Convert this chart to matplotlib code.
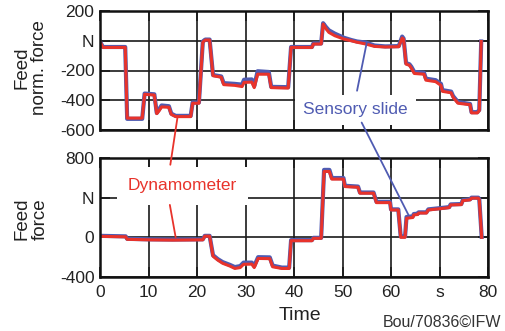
import numpy as np
import matplotlib
matplotlib.use("Agg")
import matplotlib.pyplot as plt
from matplotlib.patches import ConnectionPatch

plt.rcParams['font.family'] = ['Liberation Sans', 'DejaVu Sans']

# %% Datos (tiempo [s], fuerza [N])
# Fuerza normal de avance (arriba)
norm_dyn = [(0, -5), (0.6, -45), (5.2, -45), (5.6, -520), (8.7, -520), (9.2, -360),
            (11.2, -365), (11.7, -490), (12.2, -470), (12.7, -445), (14.2, -447),
            (14.7, -495), (15.6, -510), (18.7, -510), (19.1, -420), (20.4, -420),
            (21.2, -10), (21.7, 5), (22.6, 5), (23.3, -235), (25.0, -245), (25.5, -295),
            (27.8, -300), (29.3, -308), (29.7, -280), (31.3, -278), (31.8, -315),
            (32.5, -225), (34.8, -225), (35.3, -315), (38.8, -318), (39.4, -45),
            (43.7, -45), (44.0, -22), (45.6, -22), (46.0, 112), (46.6, 80), (47.2, 56),
            (48.4, 34), (50.3, 11), (51.8, 0), (53.0, -10), (54.8, -22), (56.6, -38),
            (58.8, -42), (61.6, -40), (62.3, 18), (62.6, 10), (63.1, -157), (63.8, -165),
            (64.2, -185), (64.8, -220), (66.8, -225), (67.2, -265), (69.2, -275),
            (70.3, -300), (70.6, -340), (72.4, -350), (72.8, -380), (73.8, -420),
            (76.3, -430), (76.6, -485), (77.8, -485), (78.2, -470), (78.6, -5)]

norm_slide = [(0, -5), (0.6, -42), (5.2, -42), (5.6, -525), (8.7, -525), (9.2, -355),
              (11.2, -360), (11.7, -485), (12.2, -460), (12.7, -435), (14.2, -440),
              (14.7, -490), (15.6, -505), (18.7, -505), (19.1, -415), (20.4, -415),
              (21.2, -5), (21.7, 8), (22.6, 8), (23.3, -230), (25.0, -240), (25.5, -285),
              (27.8, -290), (29.3, -295), (29.7, -262), (31.3, -260), (31.8, -305),
              (32.5, -205), (34.8, -210), (35.3, -310), (38.8, -312), (39.4, -42),
              (43.7, -42), (44.0, -18), (45.6, -18), (46.0, 118), (46.6, 92), (47.2, 70),
              (48.4, 48), (50.3, 20), (51.8, 5), (53.0, -5), (54.8, -12), (56.6, -32),
              (58.8, -38), (61.6, -36), (62.3, 28), (62.6, 15), (63.1, -150), (63.8, -158),
              (64.2, -175), (64.8, -210), (66.8, -215), (67.2, -255), (69.2, -265),
              (70.3, -290), (70.6, -332), (72.4, -342), (72.8, -372), (73.8, -412),
              (76.3, -425), (76.6, -480), (77.8, -480), (78.2, -465), (78.6, -5)]

# Fuerza de avance (abajo)
feed_dyn = [(0, 10), (5.3, 5), (5.6, -20), (10, -25), (15, -28), (21.2, -25), (21.6, 12),
            (22.6, 12), (23.3, -190), (24.3, -230), (25.3, -262), (26.8, -290),
            (27.8, -314), (28.9, -305), (29.6, -272), (31.3, -270), (31.8, -305),
            (32.6, -213), (35.0, -215), (35.6, -297), (37.5, -314), (39.0, -314),
            (39.4, -34), (43.7, -34), (44.0, -10), (45.6, -10), (46.2, 664), (47.3, 664),
            (47.8, 587), (50.2, 587), (50.5, 512), (53.2, 505), (53.6, 445), (56.4, 445),
            (57.0, 350), (59.8, 350), (60.0, 276), (61.5, 276), (62.0, 0), (62.9, 0),
            (63.2, 192), (64.5, 200), (64.7, 226), (65.5, 230), (65.7, 245), (67.3, 245),
            (67.7, 276), (70.4, 290), (72.0, 300), (72.3, 327), (74.5, 330), (74.8, 370),
            (76.3, 378), (76.6, 395), (78.0, 395), (78.2, 380), (78.7, 0)]

feed_slide = [(0, 15), (5.3, 10), (5.6, -15), (10, -20), (15, -22), (21.2, -20), (21.6, 15),
              (22.6, 15), (23.3, -180), (24.3, -220), (25.3, -250), (26.8, -278),
              (27.8, -300), (28.9, -290), (29.6, -255), (31.3, -255), (31.8, -290),
              (32.6, -200), (35.0, -202), (35.6, -285), (37.5, -305), (39.0, -305),
              (39.4, -28), (43.7, -28), (44.0, -5), (45.6, -5), (46.2, 680), (47.3, 680),
              (47.8, 598), (50.2, 598), (50.5, 520), (53.2, 512), (53.6, 452), (56.4, 452),
              (57.0, 358), (59.8, 358), (60.0, 282), (61.5, 282), (62.0, 10), (62.9, 10),
              (63.2, 205), (64.5, 212), (64.7, 235), (65.5, 238), (65.7, 252), (67.3, 252),
              (67.7, 282), (70.4, 296), (72.0, 305), (72.3, 332), (74.5, 336), (74.8, 375),
              (76.3, 383), (76.6, 400), (78.0, 400), (78.2, 385), (78.7, 5)]

x_ticks = [0, 10, 20, 30, 40, 50, 60, 70, 80]
x_labels = ['0', '10', '20', '30', '40', '50', '60', 's', '80']
top_ticks = [-600, -400, -200, 0, 200]
top_labels = ['-600', '-400', '-200', 'N', '200']
bot_ticks = [-400, 0, 400, 800]
bot_labels = ['-400', '0', 'N', '800']

rojo = '#e8332b'
azul = '#4f5bb2'

# %% Figura
fig = plt.figure(figsize=(5.05, 3.31), dpi=100)
ax1 = fig.add_axes([100/505, 1-130/331, 388/505, 119/331])
ax2 = fig.add_axes([100/505, 1-277/331, 388/505, 119/331])

for ax, slide, dyn, ticks, labels in [(ax1, norm_slide, norm_dyn, top_ticks, top_labels),
                                      (ax2, feed_slide, feed_dyn, bot_ticks, bot_labels)]:
    ts, vs = np.array(slide).T
    td, vd = np.array(dyn).T
    ax.plot(ts, vs, color=azul, lw=3.0, solid_joinstyle='round', zorder=2)
    ax.plot(td, vd, color=rojo, lw=2.2, solid_joinstyle='round', zorder=2.1)
    ax.set_xlim(0, 80)
    ax.set_ylim(ticks[0], ticks[-1])
    ax.set_yticks(ticks)
    ax.set_yticklabels(labels)
    ax.set_xticks(x_ticks)
    ax.grid(True, color='#1a1a1a', lw=1.2)
    ax.tick_params(direction='in', length=7, width=1.2, labelsize=12.5, pad=4,
                   top=True, right=True, color='#1a1a1a', labelcolor='#222222')
    for s in ax.spines.values():
        s.set_linewidth(1.8)
        s.set_color('#111111')

ax1.set_xticklabels([])
ax2.set_xticklabels(x_labels)
ax2.tick_params(axis='x', pad=6)

# %% Etiquetas con flechas
caja = dict(boxstyle='square,pad=0.65', fc='white', ec='none')
ax2.text(17.0, 520, 'Dynamometer', color=rojo, fontsize=12.5, ha='center', va='center',
         bbox=caja, zorder=3)
ax1.text(52.7, -465, 'Sensory slide', color=azul, fontsize=12.5, ha='center', va='center',
         bbox=dict(boxstyle='square,pad=0.45', fc='white', ec='none'), zorder=3)

lineas = [((14.5, 732), ax2, (16.0, -510), ax1, rojo),
          ((14.4, 327), ax2, (15.6, 0), ax2, rojo),
          ((53.0, -336), ax1, (55.0, -13), ax1, azul),
          ((53.95, -550), ax1, (63.6, 226), ax2, azul)]
for xyA, axA, xyB, axB, c in lineas:
    cp = ConnectionPatch(xyA=xyA, coordsA=axA.transData, xyB=xyB, coordsB=axB.transData,
                         color=c, lw=1.3, zorder=5)
    fig.add_artist(cp)

# %% Textos de la figura
fig.text(31/505, 1-68/331, 'Feed\nnorm. force', rotation=90, ha='center', va='center',
         fontsize=13.5, linespacing=1.05, multialignment='center', color='#222222')
fig.text(31/505, 1-219/331, 'Feed\nforce', rotation=90, ha='center', va='center',
         fontsize=13.5, linespacing=1.05, multialignment='center', color='#222222')
fig.text(300/505, 1-315/331, 'Time', ha='center', va='center', fontsize=14,
         color='#222222')
fig.text(383/505, 1-322/331, 'Bou/70836©IFW', ha='left', va='center', fontsize=11.5,
         color='#333333')

fig.savefig('out.png', dpi=100)
